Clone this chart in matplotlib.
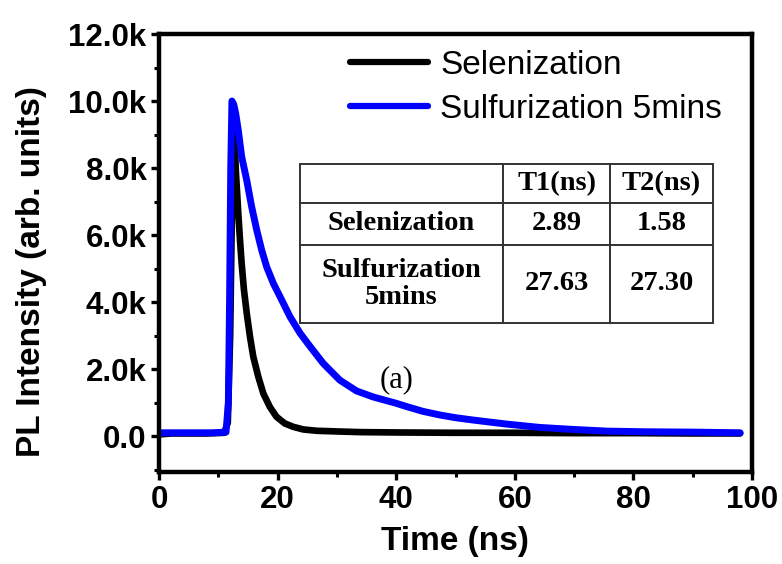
import matplotlib
matplotlib.use("Agg")
import matplotlib.pyplot as plt
from matplotlib.ticker import MultipleLocator, FuncFormatter

# ---- data ----
t_sel = [0, 2, 5, 8, 11.0, 11.6, 12.0, 12.4, 12.7, 12.98, 13.37, 13.66, 13.94, 14.33,
         14.8, 15.35, 15.9, 16.75, 17.6, 18.7, 19.8, 21.2, 22.6, 24.3, 26.6, 30.0,
         33.9, 40, 50, 60, 70, 80, 90, 98]
i_sel = [0.05, 0.08, 0.08, 0.08, 0.1, 0.4, 3.0, 8.0, 9.0, 7.84, 6.65, 5.85, 5.15, 4.36,
         3.66, 2.96, 2.37, 1.77, 1.27, 0.87, 0.58, 0.38, 0.28, 0.2, 0.16, 0.14,
         0.12, 0.11, 0.1, 0.1, 0.09, 0.09, 0.08, 0.08]

t_sul = [0, 0.5, 3, 6, 9, 11.3, 11.7, 11.9, 12.1, 12.3, 12.6, 12.93, 13.37, 13.94,
         14.79, 15.63, 16.48, 17.32, 18.16, 19.28, 20.7, 22.1, 23.8, 25.5, 27.7,
         30.5, 33.3, 36.1, 40.0, 41.8, 44.5, 47.4, 50.0, 53.0, 55.8, 58.6, 61.4,
         64.2, 67.0, 69.9, 75.5, 82.2, 90, 98]
i_sul = [0.05, 0.1, 0.1, 0.1, 0.1, 0.12, 1.0, 4.0, 8.0, 10.0, 9.9, 9.63, 9.13, 8.34,
         7.64, 6.84, 6.15, 5.55, 5.05, 4.56, 4.06, 3.56, 3.07, 2.67, 2.17,
         1.67, 1.35, 1.17, 0.98, 0.88, 0.74, 0.63, 0.55, 0.48, 0.42, 0.36, 0.31,
         0.26, 0.23, 0.2, 0.15, 0.13, 0.12, 0.1]

series_labels = ["Selenization", "Sulfurization 5mins"]
x_ticks = [0, 20, 40, 60, 80, 100]
y_ticks = [0, 2000, 4000, 6000, 8000, 10000, 12000]

table_cols = ["", "T1(ns)", "T2(ns)"]
table_rows = [["Selenization", "2.89", "1.58"],
              ["Sulfurization\n5mins", "27.63", "27.30"]]

# ---- figure ----
W, H = 782, 564
fig = plt.figure(figsize=(W/100, H/100), dpi=100)
ax = fig.add_axes([159/W, 1-472/H, (752-159)/W, (472-34)/H])

ax.plot(t_sel, [v*1000 for v in i_sel], color="black", lw=4.8,
        solid_joinstyle="round", solid_capstyle="round", label=series_labels[0])
ax.plot(t_sul, [v*1000 for v in i_sul], color="#0000ff", lw=5.0,
        solid_joinstyle="round", solid_capstyle="round", label=series_labels[1])

ax.set_xlim(0, 100)
ax.set_ylim(-1070, 12000)
ax.set_xticks(x_ticks)
ax.set_yticks(y_ticks)
ax.xaxis.set_minor_locator(MultipleLocator(10))
ax.yaxis.set_minor_locator(MultipleLocator(1000))
ax.yaxis.set_major_formatter(FuncFormatter(lambda v, p: f"{v/1000:.1f}k" if v != 0 else "0.0"))

for lab in ax.get_xticklabels() + ax.get_yticklabels():
    lab.set_fontfamily("Liberation Sans")
    lab.set_fontsize(22.5)
    lab.set_fontweight("bold")
ax.tick_params(which="major", direction="out", length=6, width=2.4, pad=3)
ax.tick_params(which="minor", direction="out", length=3.5, width=2.2)
for s in ax.spines.values():
    s.set_linewidth(3.2)

ax.set_xlabel("Time (ns)", fontfamily="Liberation Sans", fontsize=24,
              fontweight="bold")
ax.xaxis.set_label_coords((455-159)/593, (472-526)/438)
ax.set_ylabel("PL Intensity (arb. units)", fontfamily="Liberation Sans",
              fontsize=24, fontweight="bold")
ax.yaxis.set_label_coords((47-159)/593, (472-272)/438)

leg = ax.legend(loc="upper left", bbox_to_anchor=(350/W, 1-50/H),
                bbox_transform=fig.transFigure, frameon=False,
                prop=dict(family="Liberation Sans", size=24),
                handlelength=2.35, handletextpad=0.35, labelspacing=0.38,
                borderpad=0, borderaxespad=0)
for h in leg.get_lines():
    h.set_linewidth(4.5)

# table
col_w = [203, 107, 103]
row_h = [39, 42, 78]
cells = [table_cols] + table_rows
tb = ax.table(cellText=cells, cellLoc="center",
              bbox=[(300-159)/593, (472-323)/438, (713-300)/593, (323-164)/438])
tb.auto_set_font_size(False)
for (r, c), cell in tb.get_celld().items():
    cell.set_width(col_w[c] / sum(col_w))
    cell.set_height(row_h[r] / sum(row_h))
    cell.set_edgecolor("#333333")
    cell.set_linewidth(1.4)
    cell.set_facecolor("white")
    txt = cell.get_text()
    txt.set_fontfamily("Liberation Serif")
    txt.set_fontweight("bold")
    txt.set_fontsize(20.5)
    txt.set_linespacing(1.1)

ax.text(40.0, 1670, "(a)", fontfamily="Liberation Serif", fontsize=22,
        ha="center", va="center")

fig.savefig("out.png", dpi=100)
